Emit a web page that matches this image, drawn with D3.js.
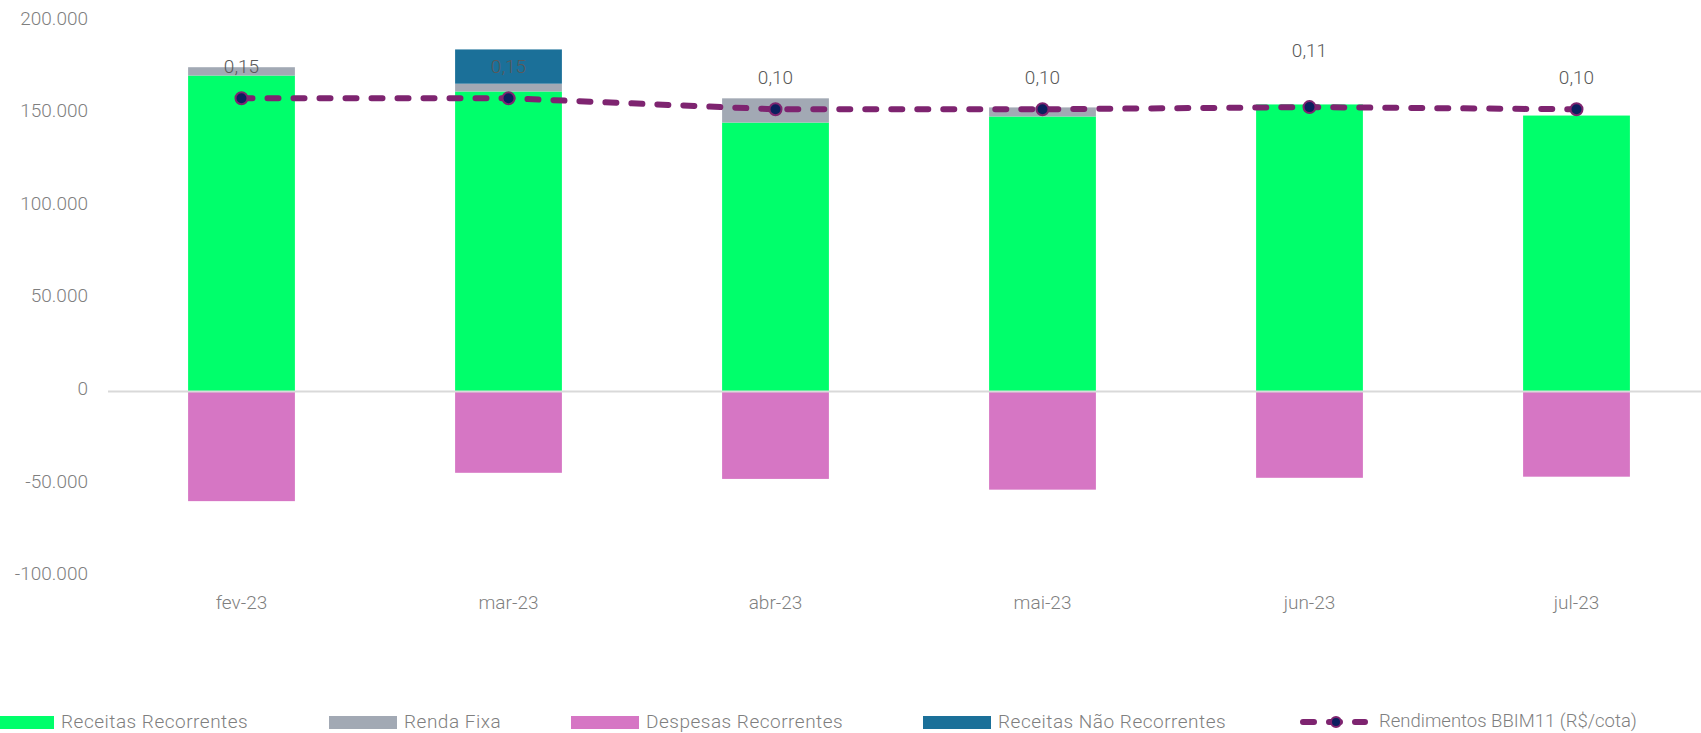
<!DOCTYPE html>
<html>
<head>
<meta charset="utf-8">
<script src="https://cdn.jsdelivr.net/npm/d3@7"></script>
<style>
  body { margin: 0; background: #fff; }
  text { font-family: Roboto, "Open Sans", sans-serif; font-weight: 300; }
</style>
</head>
<body>
<script>

const months = ["fev-23", "mar-23", "abr-23", "mai-23", "jun-23", "jul-23"];
const receitasRecorrentes = [170600, 162000, 145200, 148500, 155000, 149000];
const rendaFixa = [4500, 4200, 13100, 4900, 0, 0];
const receitasNaoRecorrentes = [0, 18500, 0, 0, 0, 0];
const despesasRecorrentes = [-59200, -43900, -47200, -53000, -46600, -46000];
const rendimentos = [0.15, 0.15, 0.10, 0.10, 0.11, 0.10];
const yTicks = [-100000, -50000, 0, 50000, 100000, 150000, 200000];

const options = {
    width: 1701,
    height: 733,
}

const colors = {
    receitas: "#00ff6b",
    renda: "#a2a9b4",
    despesas: "#d676c4",
    naoRec: "#1b7099",
    line: "#7e2470",
    marker: "#0b1f5e",
}

const locale = d3.formatLocale({decimal: ",", thousands: ".", grouping: [3], currency: ["R$", ""], minus: "-"});
const fmtTick = locale.format(",d");
const fmtVal = locale.format(".2f");

let svg = d3.select("body")
    .append("svg")
    .attr("width", options.width)
    .attr("height", options.height)

const x = d3.scaleBand()
    .domain(months)
    .range([108, 1710])
    .paddingInner(0.6)
    .paddingOuter(0.3)

const y = d3.scaleLinear()
    .domain([-100000, 200000])
    .range([576.7, 21.1])

// secondary axis for the rendimentos line (hidden)
const y2 = d3.scaleLinear()
    .domain([0, 0.5])
    .range([131.3, 21.3])

// y axis labels
let yAxis = svg.append("g")
    .attr("transform", "translate(88,-3)")
    .call(d3.axisLeft(y).tickValues(yTicks).tickSize(0).tickPadding(0).tickFormat(fmtTick))
yAxis.select(".domain").remove()
yAxis.selectAll("text")
    .style("font-size", "19px")
    .style("font-family", "Roboto, sans-serif")
    .attr("fill", "#7f7f7f")

// stacked positive parts
const rows = months.map((m, i) => ({
    month: m,
    receitas: receitasRecorrentes[i],
    renda: rendaFixa[i],
    naoRec: receitasNaoRecorrentes[i],
}))
const stack = d3.stack().keys(["receitas", "renda", "naoRec"])(rows)

svg.selectAll(".layer")
    .data(stack)
    .enter()
    .append("g")
    .attr("fill", d => colors[d.key])
    .selectAll("rect")
    .data(d => d)
    .enter()
    .append("rect")
    .attr("x", d => x(d.data.month))
    .attr("width", x.bandwidth())
    .attr("y", d => y(d[1]))
    .attr("height", d => y(d[0]) - y(d[1]))

svg.selectAll(".neg")
    .data(despesasRecorrentes)
    .enter()
    .append("rect")
    .attr("fill", colors.despesas)
    .attr("x", (d, i) => x(months[i]))
    .attr("width", x.bandwidth())
    .attr("y", y(0))
    .attr("height", d => y(d) - y(0))

// zero line
svg.append("line")
    .attr("x1", 108)
    .attr("x2", options.width)
    .attr("y1", y(0))
    .attr("y2", y(0))
    .attr("stroke", "#d9d9d9")
    .attr("stroke-width", 2)

// x labels
let xAxis = svg.append("g")
    .attr("transform", "translate(0,590)")
    .call(d3.axisBottom(x).tickSize(0).tickPadding(0))
xAxis.select(".domain").remove()
xAxis.selectAll("text")
    .attr("dy", "0.35em")
    .attr("y", 12)
    .style("font-size", "19px")
    .style("font-family", "Roboto, sans-serif")
    .attr("fill", "#7f7f7f")

// rendimentos line
const cx = (i) => x(months[i]) + x.bandwidth() / 2;
const line = d3.line()
    .x((d, i) => cx(i))
    .y(d => y2(d))

svg.append("path")
    .datum(rendimentos)
    .attr("d", line)
    .attr("fill", "none")
    .attr("stroke", colors.line)
    .attr("stroke-width", 6)
    .attr("stroke-linecap", "round")
    .attr("stroke-dasharray", "11 15")

svg.selectAll(".pt")
    .data(rendimentos)
    .enter()
    .append("circle")
    .attr("cx", (d, i) => cx(i))
    .attr("cy", d => y2(d))
    .attr("r", 6)
    .attr("fill", colors.marker)
    .attr("stroke", colors.line)
    .attr("stroke-width", 2)

// value labels (jun label sits higher, as in the source)
const labelLift = [32, 32, 32, 32, 57, 32];
svg.selectAll(".lbl")
    .data(rendimentos)
    .enter()
    .append("text")
    .attr("x", (d, i) => cx(i))
    .attr("y", (d, i) => y2(d) - labelLift[i])
    .attr("dy", "0.35em")
    .attr("text-anchor", "middle")
    .style("font-size", "19px")
    .attr("fill", "#595959")
    .text(d => fmtVal(d))

// legend
const legendItems = [
    {name: "Receitas Recorrentes", color: colors.receitas, type: "rect"},
    {name: "Renda Fixa", color: colors.renda, type: "rect"},
    {name: "Despesas Recorrentes", color: colors.despesas, type: "rect"},
    {name: "Receitas Não Recorrentes", color: colors.naoRec, type: "rect"},
    {name: "Rendimentos BBIM11 (R$/cota)", color: colors.line, type: "line"},
]
const legendX = [-14, 329, 571, 923, 1300];

let legend = svg.append("g").attr("transform", "translate(0,721)")
legendItems.forEach((item, i) => {
    let g = legend.append("g").attr("transform", `translate(${legendX[i]},0)`)
    if (item.type === "rect") {
        g.append("rect")
            .attr("x", 0)
            .attr("y", -5)
            .attr("width", 68)
            .attr("height", 13)
            .attr("fill", item.color)
    } else {
        g.append("line")
            .attr("x1", 3).attr("x2", 65)
            .attr("y1", 1).attr("y2", 1)
            .attr("stroke", item.color)
            .attr("stroke-width", 6)
            .attr("stroke-linecap", "round")
            .attr("stroke-dasharray", "11 15")
        g.append("circle")
            .attr("cx", 36).attr("cy", 1).attr("r", 5)
            .attr("fill", colors.marker)
            .attr("stroke", colors.line)
            .attr("stroke-width", 2)
    }
    g.append("text")
        .attr("x", item.type === "rect" ? 75 : 79)
        .attr("dy", "0.35em")
        .style("font-size", item.type === "rect" ? "19px" : "18.5px")
        .style("letter-spacing", item.type === "rect" ? "0.5px" : "0px")
        .attr("fill", "#7f7f7f")
        .text(item.name)
})

</script>
</body>
</html>
